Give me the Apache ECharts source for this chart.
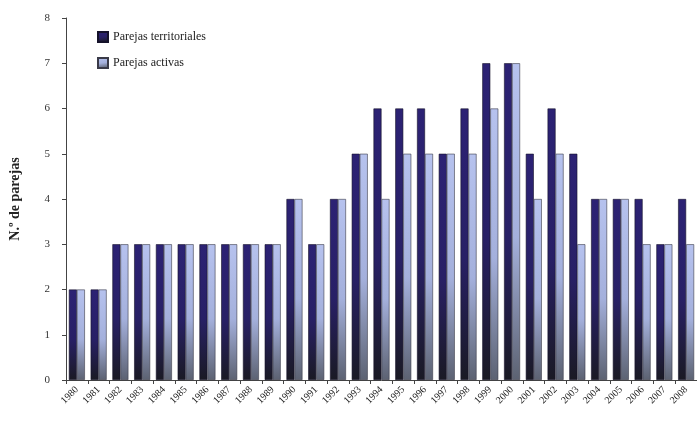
<!DOCTYPE html>
<html><head><meta charset="utf-8">
<script src="https://cdn.jsdelivr.net/npm/echarts@6/dist/echarts.min.js"></script>
<style>html,body{margin:0;padding:0;background:#fff}#c{width:697px;height:425px}</style>
</head><body><div id="c"></div>
<script>
const years = ['1980','1981','1982','1983','1984','1985','1986','1987','1988','1989','1990','1991','1992','1993','1994','1995','1996','1997','1998','1999','2000','2001','2002','2003','2004','2005','2006','2007','2008'];
const territoriales = [2,2,3,3,3,3,3,3,3,3,4,3,4,5,6,6,6,5,6,7,7,5,6,5,4,4,4,3,4];
const activas =       [2,2,3,3,3,3,3,3,3,3,4,3,4,5,4,5,5,5,5,6,7,4,5,3,4,4,3,3,3];
const yTicks = [0,1,2,3,4,5,6,7,8];

const G = echarts.graphic.LinearGradient;
const darkFill = new G(0,0,0.15,1,[{offset:0,color:'#2c2274'},{offset:0.55,color:'#282066'},{offset:1,color:'#1a1a24'}]);
const lightFill = new G(0,0,0.15,1,[{offset:0,color:'#b6c2ee'},{offset:0.55,color:'#a4b0dc'},{offset:1,color:'#5c6272'}]);

const chart = echarts.init(document.getElementById('c'));
chart.setOption({
  animation:false,
  backgroundColor:'#fff',
  textStyle:{fontFamily:'Liberation Serif'},
  grid:{left:65, top:18, width:637, height:362},
  legend:{
    left:92, top:26, orient:'vertical', itemWidth:10, itemHeight:10, itemGap:14, icon:'rect',
    textStyle:{fontFamily:'Liberation Serif', fontSize:12, color:'#222'},
    data:['Parejas territoriales','Parejas activas']
  },
  xAxis:{
    type:'category', data:years,
    axisLine:{lineStyle:{color:'#444'}},
    axisTick:{show:true, alignWithLabel:false, length:4, lineStyle:{color:'#444'}},
    axisLabel:{rotate:45, fontSize:10, color:'#222', margin:8, interval:0, fontFamily:'Liberation Serif'}
  },
  yAxis:{
    type:'value', min:0, max:8, interval:1,
    name:'N.º de parejas', nameLocation:'middle', nameGap:44,
    nameTextStyle:{fontFamily:'Liberation Serif', fontSize:14, fontWeight:'bold', color:'#222'},
    axisLine:{show:true, lineStyle:{color:'#444'}},
    axisTick:{show:true, length:4, lineStyle:{color:'#444'}},
    axisLabel:{fontSize:11, color:'#333', margin:16, formatter:v=>yTicks.includes(v)?String(v):''},
    splitLine:{show:false}
  },
  series:[
    {name:'Parejas territoriales', type:'bar', data:territoriales, barWidth:8, barGap:'0%',
     itemStyle:{color:darkFill, borderColor:'#15122a', borderWidth:0.6}},
    {name:'Parejas activas', type:'bar', data:activas, barWidth:8, barGap:'0%',
     itemStyle:{color:lightFill, borderColor:'#3a3a48', borderWidth:0.6}}
  ]
});
</script></body></html>
